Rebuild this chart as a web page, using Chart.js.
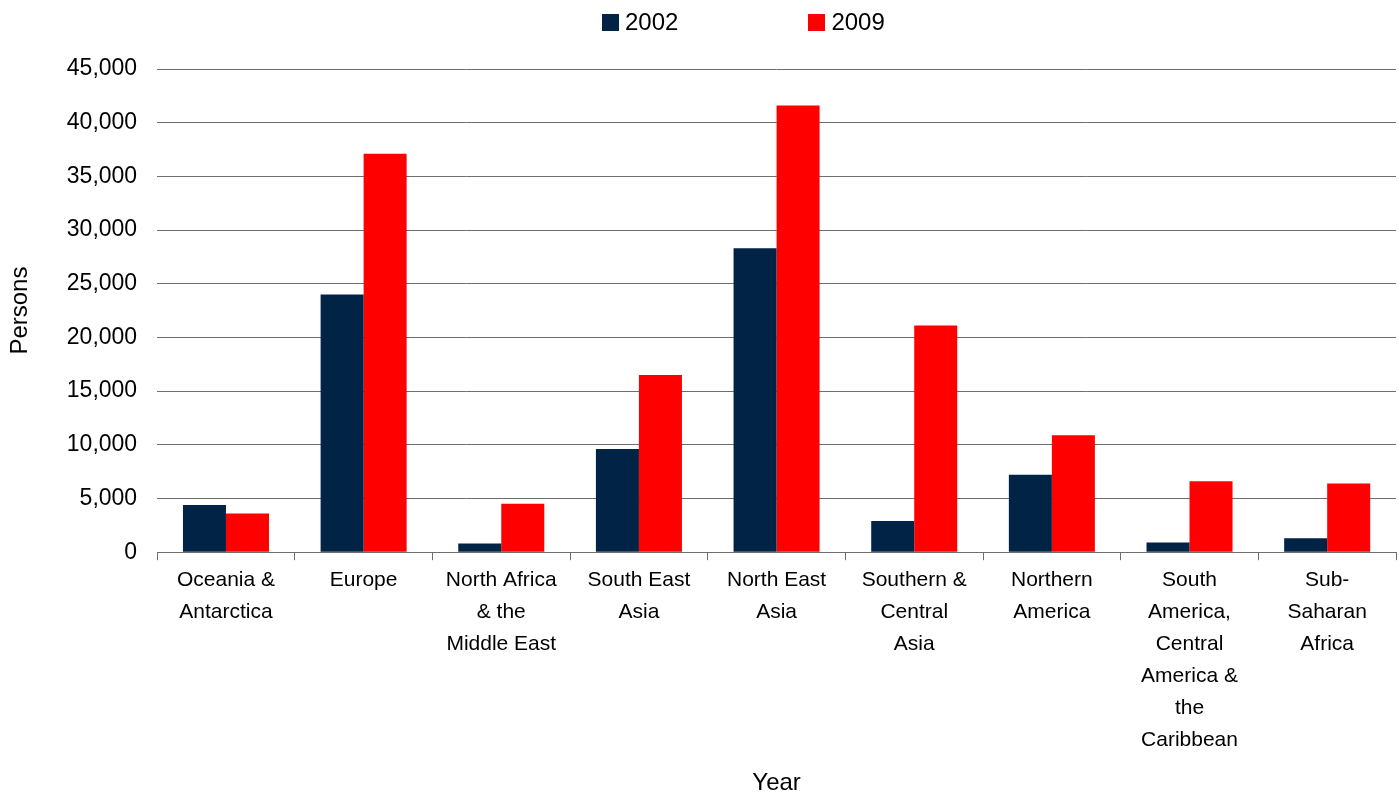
<!DOCTYPE html>
<html>
<head>
<meta charset="utf-8">
<script src="https://cdn.jsdelivr.net/npm/chart.js@4/dist/chart.umd.min.js"></script>
<style>
    html, body { margin: 0; padding: 0; background: #ffffff; }
    #wrap { width: 1399px; height: 792px; position: relative; }
    .legend {
        position: absolute;
        left: 602px;
        top: 8px;
        display: flex;
        font-family: "Liberation Sans", Arial, sans-serif;
        font-size: 24px;
        color: #000000;
    }
    .legend-item { display: flex; align-items: center; margin-right: 130px; }
    .legend-box { width: 17px; height: 17px; margin-right: 6px; }
</style>
</head>
<body>
<div id="wrap">
    <canvas id="regions-chart"></canvas>
    <div class="legend" id="legend"></div>
</div>
<script>
// Regions, one multi-line label each
const regions = [
    ["Oceania &", "Antarctica"],
    ["Europe"],
    ["North Africa", "& the", "Middle East"],
    ["South East", "Asia"],
    ["North East", "Asia"],
    ["Southern &", "Central", "Asia"],
    ["Northern", "America"],
    ["South", "America,", "Central", "America &", "the", "Caribbean"],
    ["Sub-", "Saharan", "Africa"]
];

const persons2002 = [4400, 24000, 800, 9600, 28300, 2900, 7200, 900, 1300];
const persons2009 = [3600, 37100, 4500, 16500, 41600, 21100, 10900, 6600, 6400];

const yTicks = [0, 5000, 10000, 15000, 20000, 25000, 30000, 35000, 40000, 45000];

document.addEventListener("DOMContentLoaded", function () {
    const ctx = document.getElementById("regions-chart").getContext("2d");
    const family = "'Liberation Sans', Arial, sans-serif";

    const chart = new Chart(ctx, {
        type: "bar",
        data: {
            labels: regions,
            datasets: [
                { label: "2002", data: persons2002, backgroundColor: "#002346" },
                { label: "2009", data: persons2009, backgroundColor: "#ff0000" }
            ]
        },
        options: {
            responsive: true,
            maintainAspectRatio: false,
            animation: false,
            layout: { padding: { top: 69, right: 3, left: 0, bottom: -6 } },
            datasets: {
                bar: { categoryPercentage: 0.625, barPercentage: 1.0 }
            },
            plugins: {
                legend: { display: false },
                tooltip: { enabled: false }
            },
            scales: {
                x: {
                    offset: true,
                    grid: {
                        offset: true,
                        drawOnChartArea: false,
                        drawTicks: true,
                        tickLength: 8,
                        color: "#6e6e6e"
                    },
                    border: { display: true, color: "#6e6e6e", width: 1 },
                    ticks: {
                        color: "#000000",
                        font: { family: family, size: 21, lineHeight: 1.524 },
                        autoSkip: false,
                        maxRotation: 0,
                        padding: 4
                    },
                    title: {
                        display: true,
                        text: "Year",
                        color: "#000000",
                        font: { family: family, size: 24 },
                        padding: { top: 9, bottom: 0 }
                    }
                },
                y: {
                    min: 0,
                    max: 45000,
                    afterBuildTicks: axis => {
                        axis.ticks = yTicks.map(v => ({ value: v }));
                    },
                    grid: {
                        color: "#6e6e6e",
                        drawTicks: false
                    },
                    border: { display: false },
                    ticks: {
                        color: "#000000",
                        font: { family: family, size: 23 },
                        padding: 20,
                        callback: v => v.toLocaleString("en-US")
                    },
                    title: {
                        display: true,
                        text: "Persons",
                        color: "#000000",
                        font: { family: family, size: 24 },
                        padding: { top: 6, bottom: 12 }
                    }
                }
            }
        }
    });

    // Legend built from the chart's datasets
    const legend = document.getElementById("legend");
    chart.data.datasets.forEach(ds => {
        const item = document.createElement("div");
        item.className = "legend-item";
        const box = document.createElement("span");
        box.className = "legend-box";
        box.style.background = ds.backgroundColor;
        const text = document.createElement("span");
        text.textContent = ds.label;
        item.appendChild(box);
        item.appendChild(text);
        legend.appendChild(item);
    });
});
</script>
</body>
</html>
